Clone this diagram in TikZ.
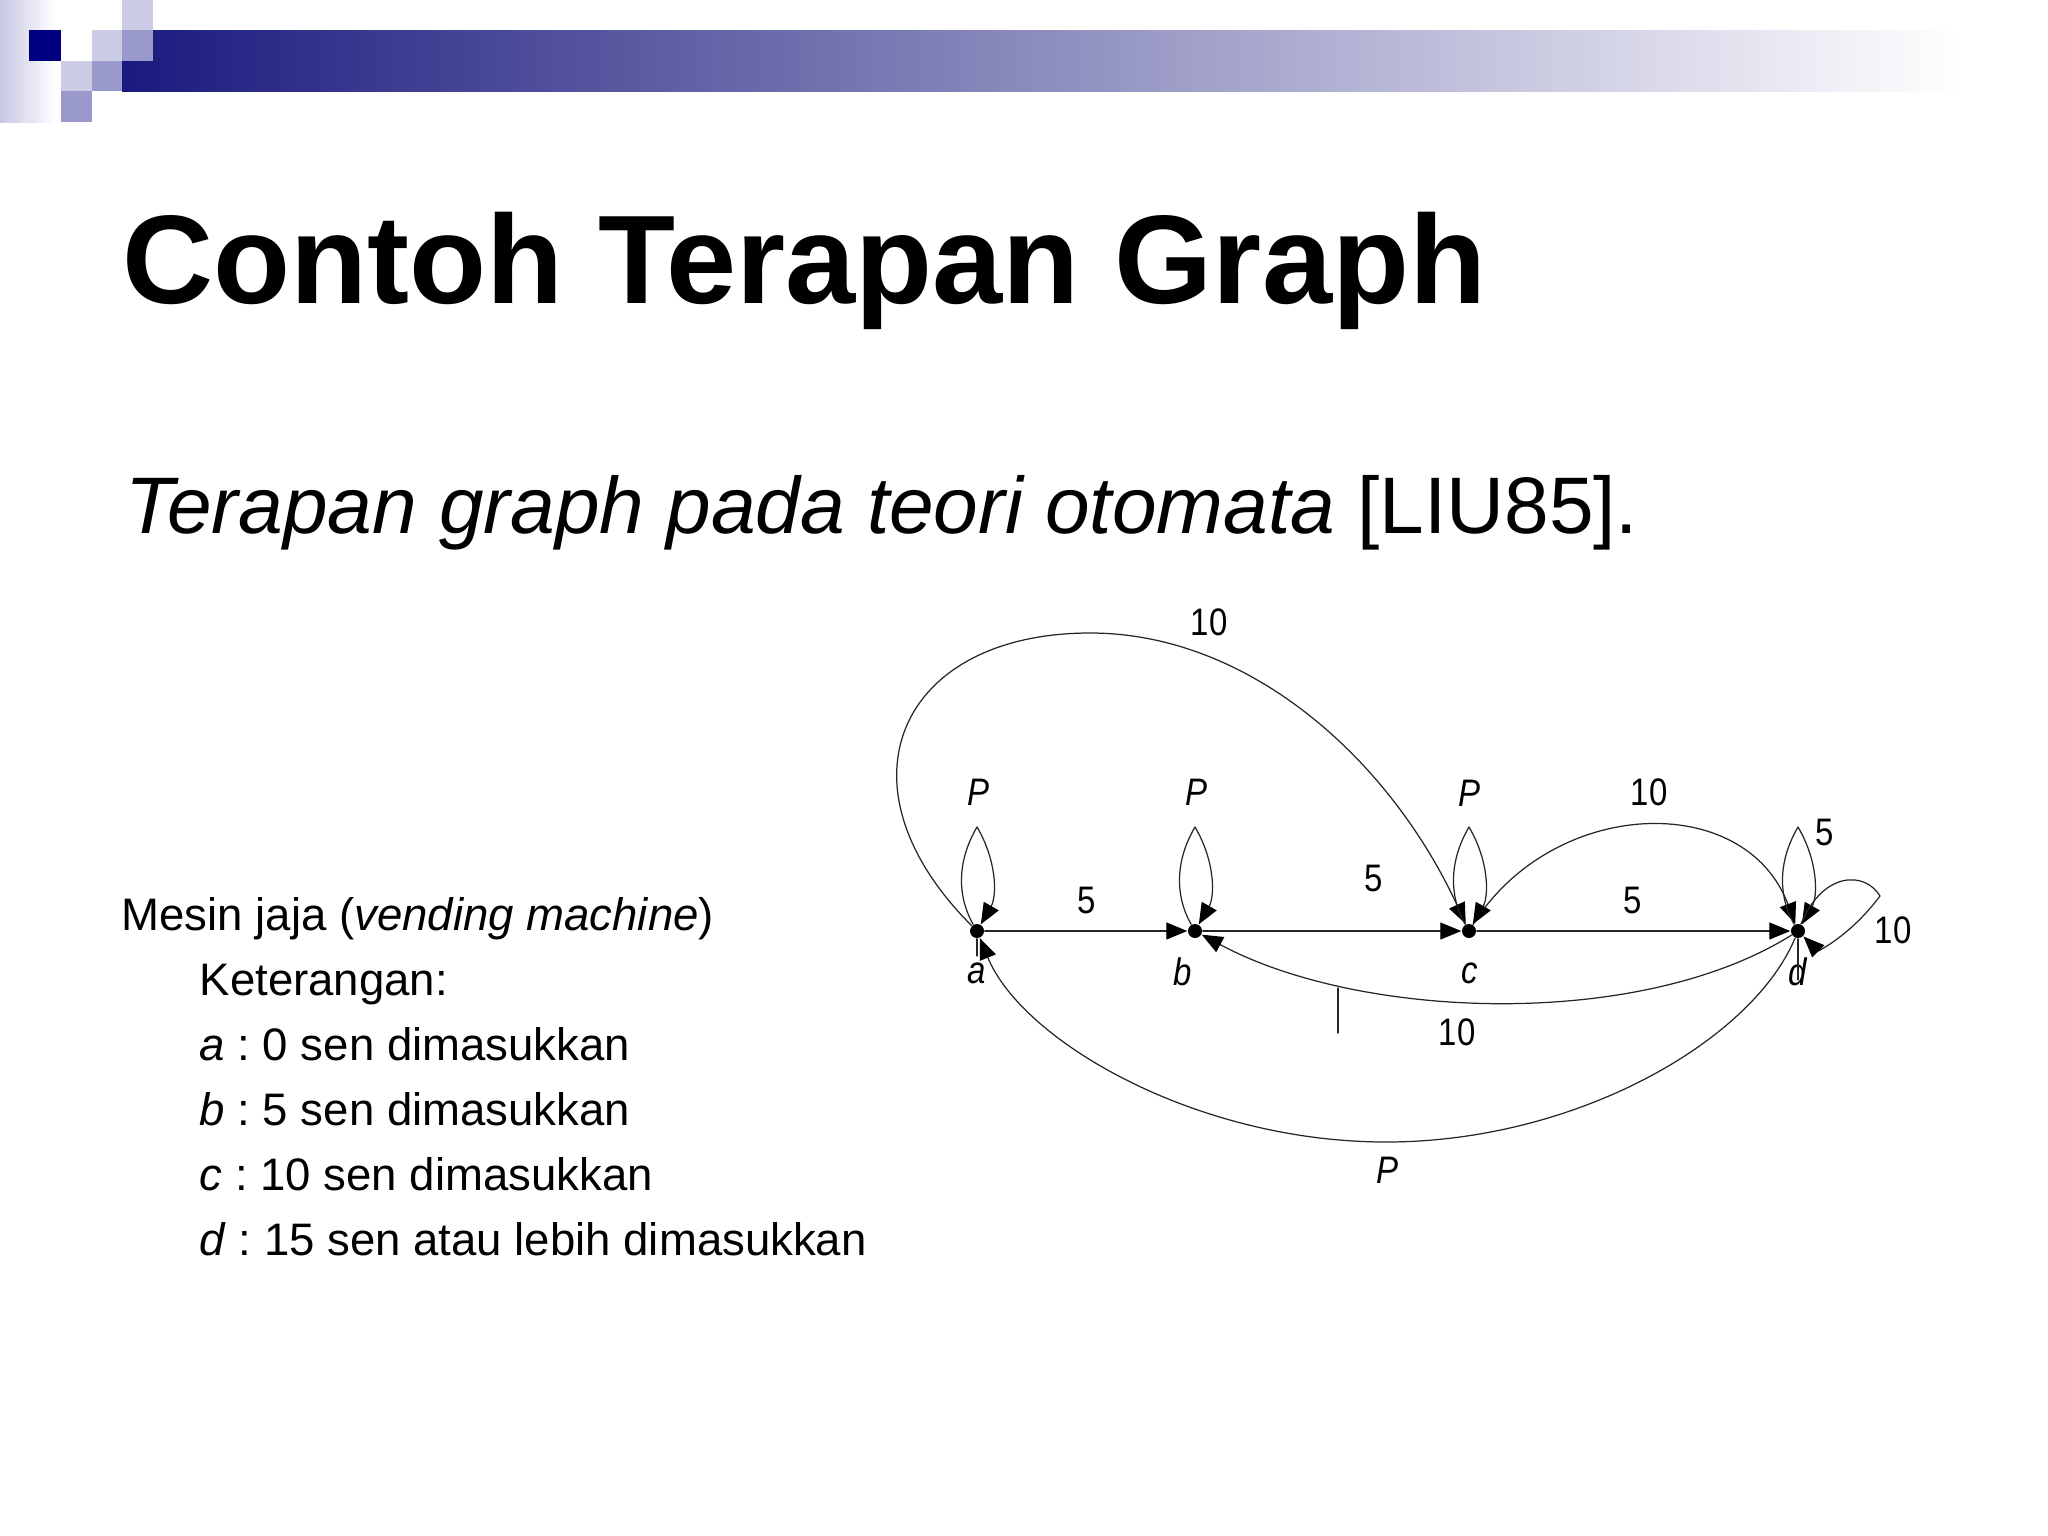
\documentclass[tikz,border=0pt]{standalone}
\usepackage{fontspec}
\setmainfont{Liberation Sans}
\newfontfamily\narrowsans[FakeStretch=0.86]{Liberation Sans}
\usetikzlibrary{arrows.meta}
\frenchspacing
\definecolor{barnavy}{RGB}{26,26,126}
\definecolor{barmid}{RGB}{178,176,200}
\definecolor{sqnavy}{RGB}{0,0,128}
\definecolor{sqlight}{RGB}{204,204,230}
\definecolor{sqmid}{RGB}{153,153,204}
\definecolor{fadelav}{RGB}{200,200,228}
\begin{document}
\begin{tikzpicture}[x=0.01cm,y=-0.01cm,line cap=round,line join=round,
		>={Triangle[length=0.21cm,width=0.17cm,color=black]},
		state/.style={circle,fill=black,inner sep=0pt,minimum size=0.14cm},
		edge/.style={draw=black!85,line width=0.35pt},
		lbl/.style={inner sep=0pt,font=\narrowsans\fontsize{10.9pt}{12pt}\selectfont},
		body/.style={anchor=base west,inner sep=0pt,font=\fontsize{12.95pt}{15pt}\selectfont}]
		\useasboundingbox (0,0) rectangle (2048,1536);
		\fill[white] (0,0) rectangle (2048,1536);
		% header band
		\shade[left color=fadelav,right color=white] (0,0) rectangle (56,122);
		\shade[left color=barnavy,middle color=barmid,right color=white] (122,30) rectangle (1960,91);
		\fill[sqnavy] (29,30) rectangle (61,61);
		\fill[sqlight] (92,30) rectangle (122,61);
		\fill[sqlight] (122,0) rectangle (153,30);
		\fill[sqmid] (122,30) rectangle (153,61);
		\fill[sqlight] (61,61) rectangle (92,91);
		\fill[sqmid] (92,61) rectangle (122,91);
		\fill[sqmid] (61,91) rectangle (92,122);
		% texts
		\node[anchor=base west,inner sep=0pt,font=\bfseries\fontsize{35.85pt}{40pt}\selectfont] (title) at (122,303) {Contoh Terapan Graph};
		\node[anchor=base west,inner sep=0pt,font=\fontsize{22.8pt}{26pt}\selectfont] (sub) at (125,533) {\textit{Terapan graph pada teori otomata} [LIU85].};
		\node[body] (l1) at (121,930) {Mesin jaja (\textit{vending machine})};
		\node[body] (l2) at (199,995) {Keterangan:};
		\node[body] (l3) at (199,1060) {\textit{a} : 0 sen dimasukkan};
		\node[body] (l4) at (199,1125) {\textit{b} : 5 sen dimasukkan};
		\node[body] (l5) at (199,1190) {\textit{c} : 10 sen dimasukkan};
		\node[body] (l6) at (199,1255) {\textit{d} : 15 sen atau lebih dimasukkan};
		% states
		\node[state] (a) at (977,931) {};
		\node[state] (b) at (1195,931) {};
		\node[state] (c) at (1469,931) {};
		\node[state] (d) at (1798,931) {};
		\node[lbl] (na) at (977,973) {\textit{a}};
		\node[lbl] (nb) at (1183,972) {\textit{b}};
		\node[lbl] (nc) at (1470,973) {\textit{c}};
		\node[lbl] (nd) at (1798,972) {\textit{d}};
		% transitions
		\draw[edge,->] (a) -- (b);
		\draw[edge,->] (b) -- (c);
		\draw[edge,->] (c) -- (d);
		\coordinate (top1) at (1090,633);
		\draw[edge,->] (a) .. controls (830,784) and (900,633) .. (top1) .. controls (1250,633) and (1390,760) .. (c);
		\draw[edge,->] (c) .. controls (1553,797) and (1745,790) .. (d);
		\draw[edge,->] (d) .. controls (1640,1030) and (1360,1020) .. (b);
		\coordinate (bot1) at (1386,1142);
		\draw[edge,->] (d) .. controls (1752,1041) and (1576,1142) .. (bot1) .. controls (1196,1142) and (1022,1041) .. (a);
		\foreach \n in {a,b,c,d}
			\draw[edge,->] (\n) .. controls +(-20,-35) and +(-20,34) .. ++(0,-104) .. controls +(20,34) and +(20,-35) .. (\n);
		\draw[edge,->] (d) .. controls +(25,-60) and +(-15,-25) .. ++(82,-35) .. controls +(-30,40) and +(20,20) .. (d);
		% stray ticks
		\coordinate (ta) at (977,956);
		\coordinate (td) at (1798,980);
		\coordinate (tk1) at (1338,988);
		\coordinate (tk2) at (1338,1033);
		\draw[edge] (a) -- (ta);
		\draw[edge] (d) -- (td);
		\draw[edge] (tk1) -- (tk2);
		% labels
		\node[lbl] (pa) at (978,792) {\textit{P}};
		\node[lbl] (pb) at (1196,792) {\textit{P}};
		\node[lbl] (pc) at (1469,793) {\textit{P}};
		\node[lbl] (pd) at (1387,1170) {\textit{P}};
		\node[lbl] (e1) at (1209,622) {10};
		\node[lbl] (e2) at (1087,900) {5};
		\node[lbl] (e3) at (1374,878) {5};
		\node[lbl] (e4) at (1649,792) {10};
		\node[lbl] (e5) at (1633,900) {5};
		\node[lbl] (e6) at (1457,1032) {10};
		\node[lbl] (e7) at (1825,832) {5};
		\node[lbl] (e8) at (1893,930) {10};
	\end{tikzpicture}
\end{document}
